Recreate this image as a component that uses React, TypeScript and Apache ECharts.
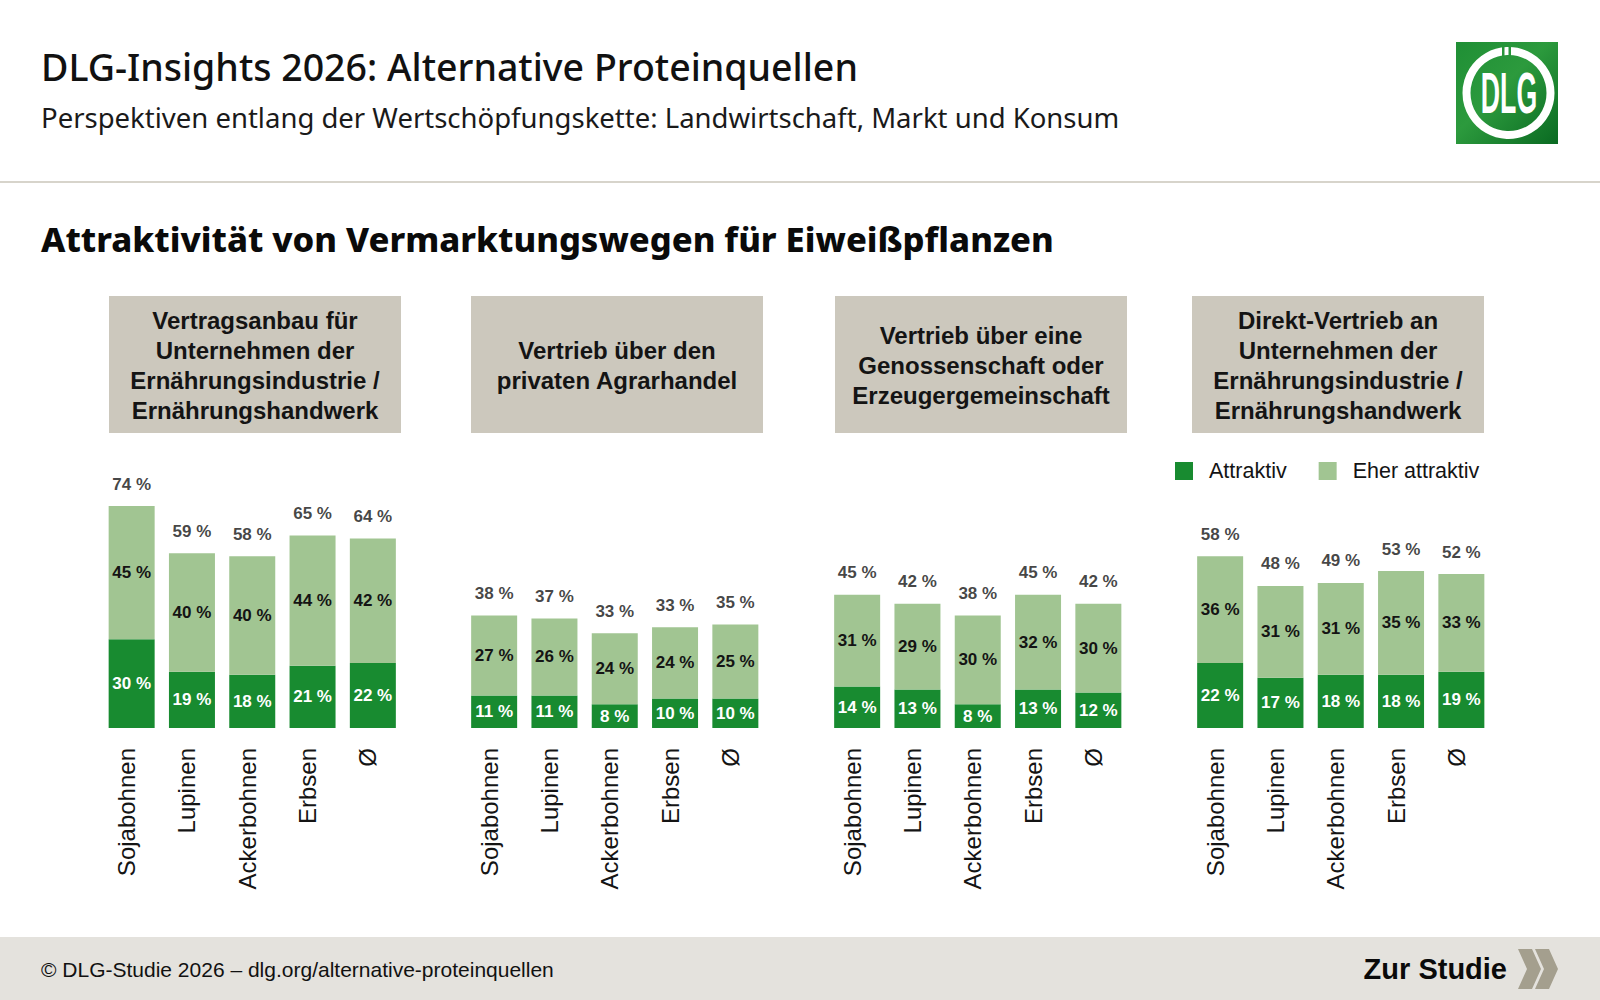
import React, { useEffect, useRef } from "react";
import * as echarts from "echarts";

const categories = ["Sojabohnen", "Lupinen", "Ackerbohnen", "Erbsen", "Ø"];

const panelTitles = [
  "Vertragsanbau für\nUnternehmen der\nErnährungsindustrie /\nErnährungshandwerk",
  "Vertrieb über den\nprivaten Agrarhandel",
  "Vertrieb über eine\nGenossenschaft oder\nErzeugergemeinschaft",
  "Direkt-Vertrieb an\nUnternehmen der\nErnährungsindustrie /\nErnährungshandwerk",
];

const attraktivVertrag = [30, 19, 18, 21, 22];
const eherVertrag = [45, 40, 40, 44, 42];
const totalVertrag = [74, 59, 58, 65, 64];

const attraktivAgrarhandel = [11, 11, 8, 10, 10];
const eherAgrarhandel = [27, 26, 24, 24, 25];
const totalAgrarhandel = [38, 37, 33, 33, 35];

const attraktivGenossenschaft = [14, 13, 8, 13, 12];
const eherGenossenschaft = [31, 29, 30, 32, 30];
const totalGenossenschaft = [45, 42, 38, 45, 42];

const attraktivDirekt = [22, 17, 18, 18, 19];
const eherDirekt = [36, 31, 31, 35, 33];
const totalDirekt = [58, 48, 49, 53, 52];

const seriesNames = ["Attraktiv", "Eher attraktiv"];

const attraktiv = [attraktivVertrag, attraktivAgrarhandel, attraktivGenossenschaft, attraktivDirekt];
const eher = [eherVertrag, eherAgrarhandel, eherGenossenschaft, eherDirekt];
const totals = [totalVertrag, totalAgrarhandel, totalGenossenschaft, totalDirekt];

const DARK = "#188b30";
const LIGHT = "#a1c592";
const TEXT = "#141414";
const ARIAL = "'Liberation Sans', Arial, sans-serif";
const BRAND = "'Noto Sans', 'Open Sans', sans-serif";

const GRID_LEFT = [101.5, 464, 827, 1190];
const GRID_W = 301.5;
const GRID_TOP = 432;
const GRID_H = 296;
const BOX_X = [109, 471, 835, 1192];

export default function App() {
  const ref = useRef<HTMLDivElement>(null);

  useEffect(() => {
    if (!ref.current) return;
    const chart = echarts.init(ref.current, undefined, { renderer: "svg" });

    const grids: any[] = [];
    const xAxes: any[] = [];
    const yAxes: any[] = [];
    const series: any[] = [];

    const valueLabel = (color: string) => ({
      show: true,
      position: "inside",
      color,
      fontSize: 17,
      fontWeight: "bold",
      fontFamily: ARIAL,
      formatter: "{c} %",
    });

    for (let p = 0; p < 4; p++) {
      grids.push({ left: GRID_LEFT[p], top: GRID_TOP, width: GRID_W, height: GRID_H });
      xAxes.push({
        type: "category",
        gridIndex: p,
        data: categories,
        axisLine: { show: false },
        axisTick: { show: false },
        axisLabel: {
          rotate: 90,
          margin: 20,
          fontSize: 24,
          color: TEXT,
          fontFamily: ARIAL,
          interval: 0,
          verticalAlign: "bottom",
          lineHeight: 10,
        },
      });
      yAxes.push({ type: "value", gridIndex: p, min: 0, max: 100, show: false });

      series.push({
        type: "bar",
        name: seriesNames[0],
        xAxisIndex: p,
        yAxisIndex: p,
        stack: "s" + p,
        data: attraktiv[p],
        barWidth: 46,
        itemStyle: { color: DARK },
        label: valueLabel("#ffffff"),
      });
      series.push({
        type: "bar",
        name: seriesNames[1],
        xAxisIndex: p,
        yAxisIndex: p,
        stack: "s" + p,
        data: eher[p],
        barWidth: 46,
        itemStyle: { color: LIGHT },
        label: valueLabel(TEXT),
      });
      const tot = totals[p];
      series.push({
        type: "scatter",
        name: "Gesamt",
        xAxisIndex: p,
        yAxisIndex: p,
        data: attraktiv[p].map((a, i) => a + eher[p][i]),
        symbolSize: 1,
        itemStyle: { color: "rgba(0,0,0,0)" },
        silent: true,
        label: {
          show: true,
          position: "top",
          distance: 13,
          color: TEXT,
          fontSize: 17,
          fontWeight: "bold",
          fontFamily: ARIAL,
          formatter: (prm: any) => tot[prm.dataIndex] + " %",
        },
      });
    }

    const graphic: any[] = [
      {
        type: "text",
        x: 41,
        y: 66,
        style: {
          text: "DLG-Insights 2026: Alternative Proteinquellen",
          fontSize: 37.5,
          fontWeight: 500,
          fontFamily: BRAND,
          fill: "#111111",
          verticalAlign: "middle",
        },
      },
      {
        type: "text",
        x: 41,
        y: 117,
        style: {
          text: "Perspektiven entlang der Wertschöpfungskette: Landwirtschaft, Markt und Konsum",
          fontSize: 27.5,
          fontFamily: BRAND,
          fill: "#1a1a1a",
          verticalAlign: "middle",
        },
      },
      {
        type: "rect",
        shape: { x: 0, y: 181, width: 1600, height: 2 },
        style: { fill: "#d7d4cb" },
      },
      {
        type: "text",
        x: 41,
        y: 238,
        style: {
          text: "Attraktivität von Vermarktungswegen für Eiweißpflanzen",
          fontSize: 34.5,
          fontWeight: 800,
          fontFamily: BRAND,
          fill: "#0a0a0a",
          verticalAlign: "middle",
        },
      },
      // logo
      {
        type: "rect",
        shape: { x: 1456, y: 42, width: 102, height: 102 },
        style: {
          fill: new echarts.graphic.LinearGradient(0, 0, 1, 1, [
            { offset: 0, color: "#1f8f35" },
            { offset: 0.45, color: "#2c9a3d" },
            { offset: 1, color: "#0a6a22" },
          ]),
        },
      },
      {
        type: "arc",
        shape: { cx: 1508.5, cy: 93, r: 42, startAngle: 0, endAngle: Math.PI * 2 },
        style: { stroke: "#ffffff", lineWidth: 8, fill: "none" },
      },
      {
        type: "rect",
        shape: { x: 1502, y: 46, width: 2.5, height: 12 },
        style: { fill: "#27953a" },
      },
      {
        type: "rect",
        shape: { x: 1508.5, y: 46, width: 2.5, height: 12 },
        style: { fill: "#27953a" },
      },
      {
        type: "text",
        x: 1509,
        y: 93,
        scaleX: 0.46,
        style: {
          text: "DLG",
          fontSize: 58,
          fontWeight: "bold",
          fontFamily: ARIAL,
          fill: "#ffffff",
          align: "center",
          verticalAlign: "middle",
        },
      },
      // footer
      {
        type: "rect",
        shape: { x: 0, y: 937, width: 1600, height: 63 },
        style: { fill: "#e4e2dd" },
      },
      {
        type: "text",
        x: 41,
        y: 969,
        style: {
          text: "© DLG-Studie 2026 – dlg.org/alternative-proteinquellen",
          fontSize: 21,
          fontFamily: ARIAL,
          fill: "#111111",
          verticalAlign: "middle",
        },
      },
      {
        type: "text",
        x: 1507,
        y: 969,
        style: {
          text: "Zur Studie",
          fontSize: 29,
          fontWeight: "bold",
          fontFamily: ARIAL,
          fill: "#0a0a0a",
          align: "right",
          verticalAlign: "middle",
        },
      },
      {
        type: "polygon",
        shape: {
          points: [
            [1518, 949], [1532, 949], [1541, 969], [1532, 989], [1518, 989], [1527, 969],
          ],
        },
        style: { fill: "#a49f8e" },
      },
      {
        type: "polygon",
        shape: {
          points: [
            [1535, 949], [1549, 949], [1558, 969], [1549, 989], [1535, 989], [1544, 969],
          ],
        },
        style: { fill: "#a49f8e" },
      },
    ];

    for (let p = 0; p < 4; p++) {
      graphic.push({
        type: "rect",
        shape: { x: BOX_X[p], y: 296, width: 292, height: 137 },
        style: { fill: "#ccc8bd" },
      });
      graphic.push({
        type: "text",
        x: BOX_X[p] + 146,
        y: 365,
        style: {
          text: panelTitles[p],
          fontSize: 24,
          fontWeight: "bold",
          fontFamily: ARIAL,
          lineHeight: 30,
          fill: TEXT,
          align: "center",
          verticalAlign: "middle",
        },
      });
    }

    chart.setOption({
      animation: false,
      backgroundColor: "#ffffff",
      grid: grids,
      xAxis: xAxes,
      yAxis: yAxes,
      legend: {
        data: seriesNames,
        left: 1170,
        top: 455,
        icon: "rect",
        itemWidth: 18,
        itemHeight: 18,
        itemGap: 32,
        selectedMode: false,
        textStyle: { fontSize: 21.5, color: TEXT, fontFamily: ARIAL, padding: [0, 0, 0, 11] },
      },
      series,
      graphic,
    });

    return () => chart.dispose();
  }, []);

  return (
    <div
      ref={ref}
      style={{ position: "absolute", left: 0, top: 0, width: 1600, height: 1000 }}
    />
  );
}
